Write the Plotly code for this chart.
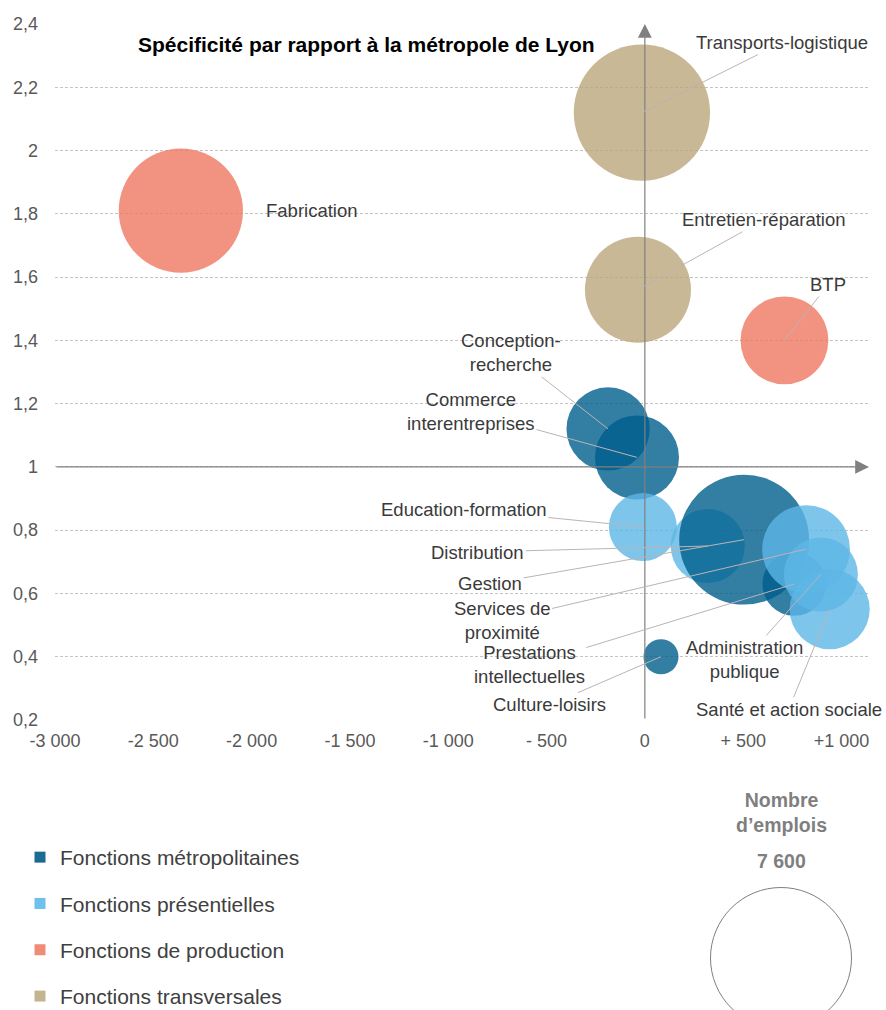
import plotly.graph_objects as go

# ---------------- data ----------------
CATEGORIES = ["Fonctions métropolitaines", "Fonctions présentielles",
              "Fonctions de production", "Fonctions transversales"]

# drawing order (later = on top)
FUNCTIONS = ["Fabrication", "Transports-logistique", "Entretien-réparation", "BTP",
             "Conception-recherche", "Commerce interentreprises", "Education-formation",
             "Distribution", "Gestion", "Prestations intellectuelles", "Culture-loisirs",
             "Services de proximité", "Administration publique", "Santé et action sociale"]
FUNCTION_CATEGORY = ["Fonctions de production", "Fonctions transversales", "Fonctions transversales",
                     "Fonctions de production", "Fonctions métropolitaines", "Fonctions métropolitaines",
                     "Fonctions présentielles", "Fonctions présentielles", "Fonctions métropolitaines",
                     "Fonctions métropolitaines", "Fonctions métropolitaines", "Fonctions présentielles",
                     "Fonctions présentielles", "Fonctions présentielles"]
# gap in number of jobs (x)
EMPLOI_ECART = [-2360, -15, -35, 710, -187, -40, -10, 320, 505, 760, 82, 820, 895, 940]
# specificity index (y)
SPECIFICITE = [1.81, 2.12, 1.56, 1.40, 1.12, 1.03, 0.81, 0.75, 0.77, 0.63, 0.40, 0.74, 0.66, 0.55]
# number of jobs (bubble size)
NB_EMPLOIS = [5900, 7100, 4300, 2950, 2650, 2700, 1770, 2100, 6450, 1550, 470, 2950, 2100, 2450]

LABEL_TEXT = ["Fabrication", "Transports-logistique", "Entretien-réparation", "BTP",
              "Conception-<br>recherche", "Commerce<br>interentreprises", "Education-formation",
              "Distribution", "Gestion", "Prestations<br>intellectuelles", "Culture-loisirs",
              "Services de<br>proximité", "Administration<br>publique", "Santé et action sociale"]

X_TICKS = [-3000, -2500, -2000, -1500, -1000, -500, 0, 500, 1000]
X_TICK_LABELS = ["-3 000", "-2 500", "-2 000", "-1 500", "-1 000", "- 500", "0", "+ 500", "+1 000"]
Y_TICKS = [0.2, 0.4, 0.6, 0.8, 1.0, 1.2, 1.4, 1.6, 1.8, 2.0, 2.2, 2.4]
Y_TICK_LABELS = ["0,2", "0,4", "0,6", "0,8", "1", "1,2", "1,4", "1,6", "1,8", "2", "2,2", "2,4"]

SIZE_LEGEND_VALUE = 7600
TITLE = "Spécificité par rapport à la métropole de Lyon"

# ---------------- style ----------------
W, H = 886, 1010
FONT = "Liberation Sans, Arial, sans-serif"
BUBBLE_COLORS = {
    "Fonctions métropolitaines": "rgba(0,94,140,0.80)",
    "Fonctions présentielles": "rgba(93,182,230,0.80)",
    "Fonctions de production": "rgba(237,120,96,0.80)",
    "Fonctions transversales": "rgba(186,166,124,0.80)",
}
LEGEND_COLORS = {
    "Fonctions métropolitaines": "#1c6b93",
    "Fonctions présentielles": "#6ec1ec",
    "Fonctions de production": "#f08c76",
    "Fonctions transversales": "#c4b48f",
}
LEGEND_RADIUS_PX = 70.5
SIZEREF = SIZE_LEGEND_VALUE / (2 * LEGEND_RADIUS_PX ** 2)

# label offsets in px (label centre relative to bubble), absent = no leader line
LABEL_OFFSETS = {
    "Transports-logistique": (140, -70),
    "Entretien-réparation": (126, -70),
    "BTP": (44, -56),
    "Conception-recherche": (-97, -76),
    "Commerce interentreprises": (-166, -46),
    "Education-formation": (-179, -18),
    "Distribution": (-230, 6),
    "Gestion": (-254, 44),
    "Services de proximité": (-304, 71),
    "Prestations intellectuelles": (-265, 81),
    "Culture-loisirs": (-111, 48),
    "Administration publique": (-76, 85),
    "Santé et action sociale": (-41, 100),
}

X_RANGE = [-3000, 1140]
Y_RANGE = [0.2, 2.4]
XDOM = [55 / W, 869 / W]
YDOM = [(H - 720) / H, (H - 24) / H]

fig = go.Figure()

# bubbles
fig.add_trace(go.Scatter(
    x=EMPLOI_ECART, y=SPECIFICITE, mode="markers",
    text=FUNCTIONS, hoverinfo="text+x+y",
    marker=dict(size=NB_EMPLOIS, sizemode="area", sizeref=SIZEREF, opacity=1,
                color=[BUBBLE_COLORS[c] for c in FUNCTION_CATEGORY],
                line=dict(width=0)),
    cliponaxis=False, showlegend=False,
))

# legend entries
for cat in CATEGORIES:
    fig.add_trace(go.Scatter(
        x=[None], y=[None], mode="markers", name=cat, legendgroup=cat,
        marker=dict(symbol="square", size=11, color=LEGEND_COLORS[cat], opacity=1),
    ))

# size legend circle
fig.add_trace(go.Scatter(
    x=[0], y=[0], xaxis="x2", yaxis="y2", mode="markers",
    marker=dict(size=[SIZE_LEGEND_VALUE], sizemode="area", sizeref=SIZEREF, opacity=1,
                color="rgba(255,255,255,0)", line=dict(color="#7f7f7f", width=1)),
    cliponaxis=False, showlegend=False, hoverinfo="skip",
))

annotations = []
# axis arrows
annotations.append(dict(x=0, y=Y_RANGE[1], ax=0, ay=Y_RANGE[0], xref="x", yref="y",
                        axref="x", ayref="y", text="", showarrow=True, arrowhead=2,
                        arrowsize=2.3, arrowwidth=1.2, arrowcolor="#808080"))
annotations.append(dict(x=X_RANGE[1], y=1, ax=X_RANGE[0], ay=1, xref="x", yref="y",
                        axref="x", ayref="y", text="", showarrow=True, arrowhead=2,
                        arrowsize=2.3, arrowwidth=1.2, arrowcolor="#808080"))

# bubble labels
for name, lab, xv, yv in zip(FUNCTIONS, LABEL_TEXT, EMPLOI_ECART, SPECIFICITE):
    off = LABEL_OFFSETS.get(name)
    if off is None:
        annotations.append(dict(x=xv, y=yv, xref="x", yref="y", text=lab, showarrow=False,
                                xanchor="left", yanchor="middle", xshift=83, yshift=0,
                                font=dict(family=FONT, size=18.5, color="#3a3a3a")))
    else:
        annotations.append(dict(x=xv, y=yv, xref="x", yref="y", text=lab, showarrow=True,
                                ax=off[0], ay=off[1], arrowhead=0, arrowwidth=1,
                                arrowcolor="#bdb3b3", standoff=0, align="center",
                                font=dict(family=FONT, size=18.5, color="#3a3a3a")))

# title
annotations.append(dict(x=136 / W, y=1 - 44 / H, xref="paper", yref="paper",
                        text="<b>" + TITLE + "</b>", showarrow=False,
                        xanchor="left", yanchor="middle",
                        font=dict(family=FONT, size=21, color="#000000")))
# size legend texts
annotations.append(dict(x=781 / W, y=1 - 812 / H, xref="paper", yref="paper",
                        text="<b>Nombre<br>d’emplois</b>", showarrow=False,
                        xanchor="center", yanchor="middle", align="center",
                        font=dict(family=FONT, size=19.5, color="#7f7f7f")))
annotations.append(dict(x=781 / W, y=1 - 861 / H, xref="paper", yref="paper",
                        text="<b>" + f"{SIZE_LEGEND_VALUE:,}".replace(",", " ") + "</b>",
                        showarrow=False, xanchor="center", yanchor="middle",
                        font=dict(family=FONT, size=19.5, color="#7f7f7f")))

fig.update_layout(
    width=W, height=H, margin=dict(l=0, r=0, t=0, b=0, autoexpand=False),
    paper_bgcolor="white", plot_bgcolor="white",
    font=dict(family=FONT, size=18, color="#595959"),
    xaxis=dict(domain=XDOM, range=X_RANGE, tickvals=X_TICKS, ticktext=X_TICK_LABELS,
               showgrid=False, zeroline=False, showline=False, ticks="",
               ticklabelstandoff=8, tickfont=dict(family=FONT, size=18, color="#595959"),
               anchor="y", fixedrange=True, automargin=False),
    yaxis=dict(domain=YDOM, range=Y_RANGE, tickvals=Y_TICKS, ticktext=Y_TICK_LABELS,
               showgrid=True, gridcolor="#c4c4c4", gridwidth=1, griddash="3px,2px",
               zeroline=False, showline=False, ticks="", ticklabelstandoff=16,
               tickfont=dict(family=FONT, size=18, color="#595959"),
               anchor="x", fixedrange=True, automargin=False),
    xaxis2=dict(domain=[741 / W, 821 / W], range=[-1, 1], visible=False, anchor="y2",
                automargin=False),
    yaxis2=dict(domain=[12 / H, 92 / H], range=[-1, 1], visible=False, anchor="x2",
                automargin=False),
    legend=dict(x=20 / W, y=-7 / H, xanchor="left", yanchor="bottom",
                font=dict(family=FONT, size=21, color="#404040"),
                tracegroupgap=16, bgcolor="rgba(0,0,0,0)", itemclick=False),
    annotations=annotations,
    showlegend=True,
)

fig.write_html("out.html", config={"displayModeBar": False},
               post_script="document.body.style.margin='0';")
